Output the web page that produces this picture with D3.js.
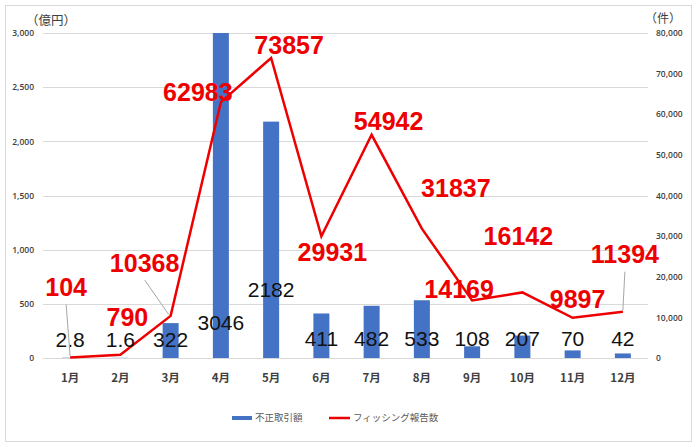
<!DOCTYPE html>
<html><head><meta charset="utf-8">
<script src="https://cdn.jsdelivr.net/npm/d3@7"></script>
<style>body{margin:0;background:#fff}svg{display:block}</style>
</head><body>
<svg id="c" width="700" height="447"></svg>
<script>
// ---- data ----
const months = ["1月","2月","3月","4月","5月","6月","7月","8月","9月","10月","11月","12月"];
const fraudAmount = [2.8, 1.6, 322, 3046, 2182, 411, 482, 533, 108, 207, 70, 42];          // 億円
const fraudLabels = ["2.8","1.6","322","3046","2182","411","482","533","108","207","70","42"];
const phishingReports = [104, 790, 10368, 62983, 73857, 29931, 54942, 31837, 14169, 16142, 9897, 11394]; // 件
const leftTicks = [0, 500, 1000, 1500, 2000, 2500, 3000];
const rightTicks = [0, 10000, 20000, 30000, 40000, 50000, 60000, 70000, 80000];
const seriesNames = ["不正取引額", "フィッシング報告数"];

// ---- layout (label placement, px offsets from the data point) ----
const redLabelPos = [[-4,-70],[7,-38],[-26,-53],[-23,-10],[18,-13],[11,16],[17,-14],[34,-40],[-13,-11],[-4,-56],[5,-19],[2,-57]];
const barLabelY = [340,340,340,323,290,339,339,339,339,339,339,339];
const leaders = [0, 2, 11];

const svg = d3.select("#c");
const L = 45, R = 648, T = 33, B = 358;
svg.append("rect").attr("x",5.5).attr("y",5.5).attr("width",686).attr("height",436)
  .attr("fill","#fff").attr("stroke","#d9d9d9");

const x = d3.scaleBand().domain(months).range([L, R]).padding(0);
const yL = d3.scaleLinear().domain([0, 3000]).range([B, T]);
const yR = d3.scaleLinear().domain([0, 80000]).range([B, T]);
const cx = m => x(m) + x.bandwidth()/2;

// gridlines
svg.append("g").selectAll("line").data(leftTicks).join("line")
  .attr("x1", L-2).attr("x2", R).attr("y1", d=>Math.round(yL(d))+0.5).attr("y2", d=>Math.round(yL(d))+0.5)
  .attr("stroke","#d9d9d9").attr("stroke-width",1);

// left axis labels
const axL = svg.append("g").attr("transform",`translate(34,0)`)
  .call(d3.axisLeft(yL).tickValues(leftTicks).tickSize(0).tickPadding(0).tickFormat(d3.format(",")));
axL.select(".domain").remove();
axL.selectAll("text").attr("font-family","'Open Sans','Liberation Sans',sans-serif").attr("font-size",8.5)
  .attr("font-weight","600").attr("fill","#404040");

// right axis labels
const axR = svg.append("g").attr("transform",`translate(656,0)`)
  .call(d3.axisRight(yR).tickValues(rightTicks).tickSize(0).tickPadding(0).tickFormat(d3.format(",")));
axR.select(".domain").remove();
axR.selectAll("text").attr("font-family","'Open Sans','Liberation Sans',sans-serif").attr("font-size",8.5)
  .attr("font-weight","600").attr("fill","#404040");

// x axis labels
const axX = svg.append("g").attr("transform",`translate(0,${B})`)
  .call(d3.axisBottom(x).tickSize(0).tickPadding(16));
axX.select(".domain").remove();
axX.selectAll("text").attr("font-family","'Noto Sans CJK JP',sans-serif").attr("font-size",11.5)
  .attr("font-weight","bold").attr("fill","#404040");

// axis titles
svg.append("text").attr("x",26).attr("y",25).text("（億円）")
  .attr("font-family","'Noto Sans CJK JP',sans-serif").attr("font-size",12.5).attr("fill","#404040");
svg.append("text").attr("x",645).attr("y",23).text("（件）")
  .attr("font-family","'Noto Sans CJK JP',sans-serif").attr("font-size",12).attr("fill","#404040");

// bars
const bw = 16;
svg.append("g").selectAll("rect").data(fraudAmount).join("rect")
  .attr("x",(d,i)=>cx(months[i])-bw/2).attr("width",bw)
  .attr("y",d=>yL(Math.min(d,3000))).attr("height",d=>B-yL(Math.min(d,3000)))
  .attr("fill","#4472C4");

// line
const line = d3.line().x((d,i)=>cx(months[i])).y(d=>yR(d));
svg.append("path").datum(phishingReports).attr("d",line)
  .attr("fill","none").attr("stroke","#EE0000").attr("stroke-width",2.5).attr("stroke-linejoin","miter");

// bar labels
svg.append("g").selectAll("text").data(fraudLabels).join("text")
  .attr("x",(d,i)=>cx(months[i])).attr("y",(d,i)=>barLabelY[i]).attr("dy","0.35em")
  .attr("text-anchor","middle").text(d=>d)
  .attr("font-family","'Liberation Sans',Arial,sans-serif").attr("font-size",21).attr("fill","#111");

// leader lines
svg.append("g").selectAll("line").data(leaders).join("line")
  .attr("x1",i=>cx(months[i])+redLabelPos[i][0])
  .attr("y1",i=>yR(phishingReports[i])+redLabelPos[i][1]+17)
  .attr("x2",i=>cx(months[i])+(i===2?-2:0)).attr("y2",i=>yR(phishingReports[i])-1.5)
  .attr("stroke","#a6a6a6").attr("stroke-width",1);

// red labels
svg.append("g").selectAll("text").data(phishingReports).join("text")
  .attr("x",(d,i)=>cx(months[i])+redLabelPos[i][0]).attr("y",(d,i)=>yR(d)+redLabelPos[i][1]).attr("dy","0.35em")
  .attr("text-anchor","middle").text(d=>d)
  .attr("font-family","'Liberation Sans',Arial,sans-serif").attr("font-weight","bold")
  .attr("font-size",25).attr("fill","#EE0000");

// legend
const lg = svg.append("g").attr("transform","translate(0,418)");
lg.append("line").attr("x1",232).attr("x2",252).attr("y1",0).attr("y2",0).attr("stroke","#4472C4").attr("stroke-width",4);
lg.append("text").attr("x",255).attr("y",0).attr("dy","0.35em").text(seriesNames[0])
  .attr("font-family","'Noto Sans CJK JP',sans-serif").attr("font-size",9.5).attr("fill","#595959");
lg.append("line").attr("x1",329).attr("x2",350).attr("y1",0).attr("y2",0).attr("stroke","#EE0000").attr("stroke-width",2.5);
lg.append("text").attr("x",353).attr("y",0).attr("dy","0.35em").text(seriesNames[1])
  .attr("font-family","'Noto Sans CJK JP',sans-serif").attr("font-size",9.5).attr("fill","#595959");
</script>
</body></html>
